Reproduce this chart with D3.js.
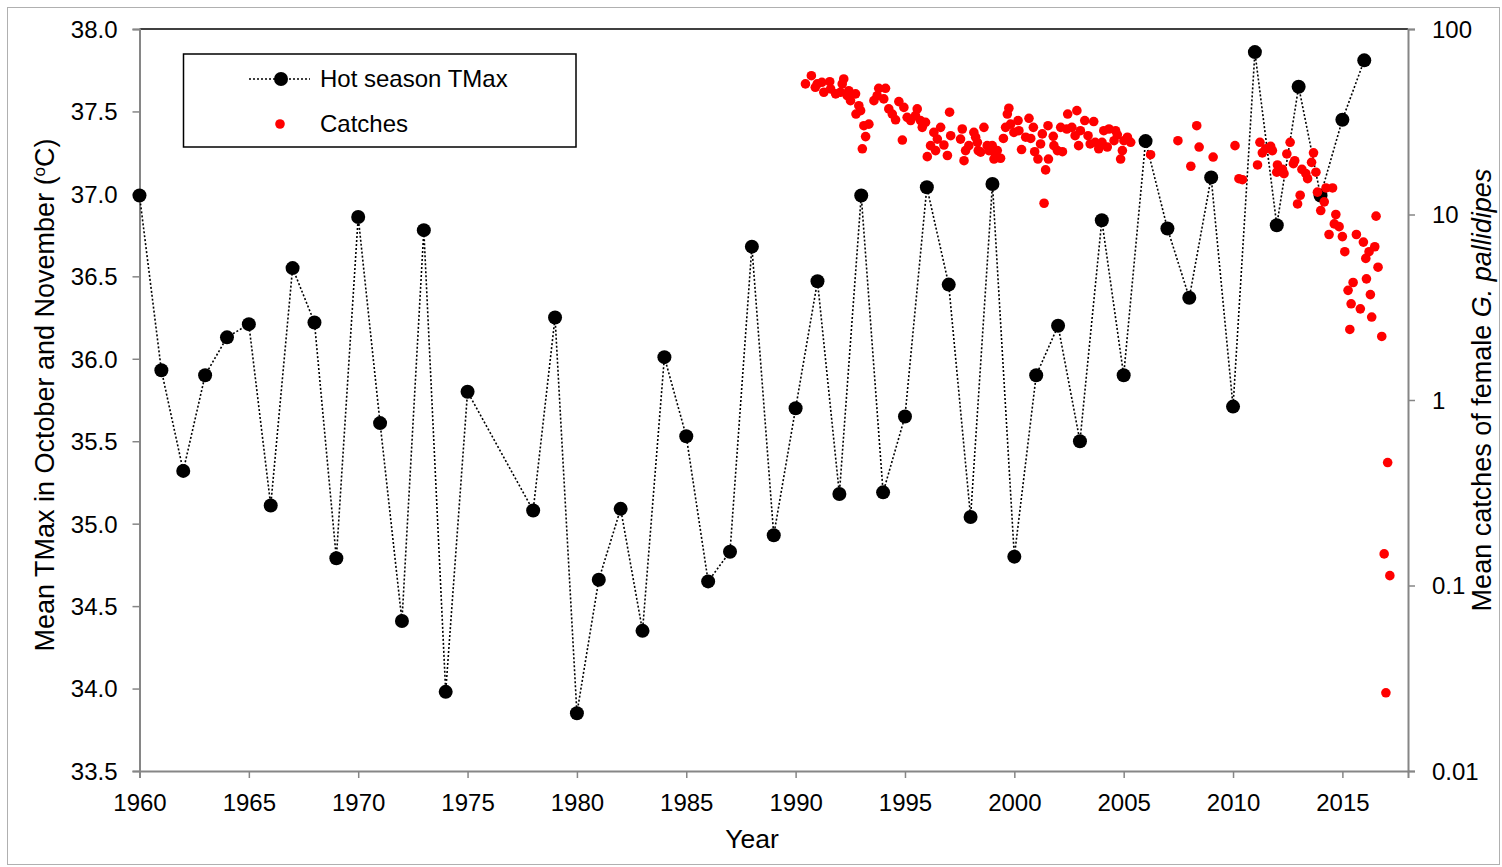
<!DOCTYPE html>
<html>
<head>
<meta charset="utf-8">
<script src="https://cdn.jsdelivr.net/npm/d3@7.9.0/dist/d3.min.js"></script>
<style>
  body { margin: 0; background: #fff; }
  svg { display: block; font-family: Arial, "Liberation Sans", sans-serif; }
</style>
</head>
<body>
<svg id="chart" width="1502" height="867"></svg>
<script>
// hot season TMax (Oct + Nov mean), 1976-77 missing
const tmaxYears = [1960, 1961, 1962, 1963, 1964, 1965, 1966, 1967, 1968, 1969,
  1970, 1971, 1972, 1973, 1974, 1975, 1978, 1979, 1980, 1981, 1982, 1983, 1984,
  1985, 1986, 1987, 1988, 1989, 1990, 1991, 1992, 1993, 1994, 1995, 1996, 1997,
  1998, 1999, 2000, 2001, 2002, 2003, 2004, 2005, 2006, 2007, 2008, 2009, 2010,
  2011, 2012, 2013, 2014, 2015, 2016];
const tmaxValues = [36.99, 35.93, 35.32, 35.90, 36.13, 36.21, 35.11, 36.55, 36.22, 34.79,
  36.86, 35.61, 34.41, 36.78, 33.98, 35.80, 35.08, 36.25, 33.85, 34.66, 35.09, 34.35, 36.01,
  35.53, 34.65, 34.83, 36.68, 34.93, 35.70, 36.47, 35.18, 36.99, 35.19, 35.65, 37.04, 36.45,
  35.04, 37.06, 34.80, 35.90, 36.20, 35.50, 36.84, 35.90, 37.32, 36.79, 36.37, 37.10, 35.71,
  37.86, 36.81, 37.65, 36.99, 37.45, 37.81];

// mean catches of female G. pallidipes (decimal year, catch)
const catchYears = [1990.45, 1990.72, 1990.9, 1990.99, 1991.2, 1991.29, 1991.56, 1991.6, 1991.83,
  1992.05, 1992.13, 1992.2, 1992.36, 1992.43, 1992.51, 1992.74, 1992.76, 1992.89, 1992.97,
  1993.05, 1993.12, 1993.2, 1993.35, 1993.58, 1993.73, 1993.8, 1994.03, 1994.11, 1994.26,
  1994.42, 1994.57, 1994.72, 1994.88, 1994.95, 1995.1, 1995.26, 1995.48, 1995.56, 1995.71,
  1995.79, 1995.94, 1996.02, 1996.17, 1996.32, 1996.4, 1996.48, 1996.63, 1996.78, 1996.94,
  1997.04, 1997.09, 1997.54, 1997.62, 1997.7, 1997.77, 1997.92, 1998.15, 1998.23, 1998.31,
  1998.35, 1998.46, 1998.61, 1998.76, 1998.84, 1998.99, 1999.07, 1999.14, 1999.22, 1999.37,
  1999.5, 1999.6, 1999.68, 1999.75, 1999.83, 1999.98, 2000.17, 2000.21, 2000.33, 2000.52,
  2000.67, 2000.75, 2000.87, 2000.93, 2001.08, 2001.2, 2001.28, 2001.36, 2001.43, 2001.54,
  2001.56, 2001.78, 2001.81, 2001.97, 2002.12, 2002.2, 2002.4, 2002.44, 2002.63, 2002.78,
  2002.86, 2002.94, 2003.02, 2003.22, 2003.37, 2003.47, 2003.63, 2003.7, 2003.86, 2004.01,
  2004.09, 2004.25, 2004.33, 2004.56, 2004.63, 2004.71, 2004.86, 2004.94, 2005.01, 2005.17,
  2005.32, 2006.23, 2007.48, 2008.07, 2008.34, 2008.45, 2009.09, 2010.09, 2010.27, 2010.43,
  2011.12, 2011.23, 2011.34, 2011.49, 2011.72, 2011.8, 2012.0, 2012.03, 2012.26, 2012.33,
  2012.46, 2012.61, 2012.76, 2012.82, 2012.95, 2013.07, 2013.15, 2013.33, 2013.41, 2013.59,
  2013.68, 2013.79, 2013.86, 2014.01, 2014.17, 2014.25, 2014.39, 2014.55, 2014.63, 2014.7,
  2014.85, 2015.0, 2015.11, 2015.26, 2015.34, 2015.4, 2015.49, 2015.64, 2015.82, 2015.96,
  2016.07, 2016.1, 2016.22, 2016.28, 2016.34, 2016.48, 2016.54, 2016.63, 2016.8, 2016.91,
  2016.99, 2017.07, 2017.17];
const catchValues = [50.6, 56, 48.5, 50.6, 51.6, 45.6, 52, 47.5, 44.7,
  45.6, 50.6, 53.8, 43.7, 46.5, 41.1, 44.7, 34.8, 38.6, 36.3,
  22.6, 30.1, 26.3, 30.7, 41.1, 43.7, 47.9, 42, 47.9, 37.1,
  34.8, 32.4, 40.6, 25.2, 37.8, 33.4, 32.1, 34.1, 37.1, 32.1,
  29.5, 31.4, 20.5, 23.5, 27.7, 22.1, 25.5, 29.5, 23.7, 20.8,
  35.6, 26.6, 25.5, 28.9, 19.5, 22.1, 23.5, 27.7, 26.1, 24.5,
  22.1, 21.7, 29.5, 23.5, 22.1, 23.5, 19.9, 20.8, 22.1, 20.1,
  25.7, 29.5, 34.8, 37.4, 30.7, 27.7, 32.1, 28.3, 22.4, 26.1,
  33, 25.7, 29.5, 21.8, 19.9, 24, 27.2, 11.5, 17.4, 30.1,
  19.9, 26.4, 23.5, 22.1, 29.5, 21.8, 28.9, 34.8, 29.5, 26.6,
  36.3, 23.5, 28.3, 32.1, 26.6, 24, 31.7, 24.5, 22.6, 24.5,
  28.3, 23.1, 28.9, 25, 28.3, 26.9, 19.9, 22.1, 25, 26.1,
  24.5, 21, 25, 18.2, 30.1, 23.1, 20.4, 23.5, 15.6, 15.4,
  18.5, 24.5, 21.5, 22.6, 23.3, 22.1, 16.9, 18.5, 17.5, 16.6,
  21.2, 24.5, 18.8, 19.5, 11.4, 12.7, 17.5, 16.6, 15.6, 19.1,
  21.5, 16.9, 13.2, 10.5, 11.7, 13.9, 7.8, 13.9, 8.9, 10,
  8.6, 7.6, 6.3, 3.9, 2.4, 3.3, 4.3, 7.8, 3.1, 7.1,
  5.8, 4.5, 6.3, 3.7, 2.8, 6.7, 9.8, 5.2, 2.2, 0.148,
  0.0264, 0.46, 0.113];

const xTicks = [1960, 1965, 1970, 1975, 1980, 1985, 1990, 1995, 2000, 2005, 2010, 2015];
const leftTicks = [33.5, 34.0, 34.5, 35.0, 35.5, 36.0, 36.5, 37.0, 37.5, 38.0];
const rightTicks = [0.01, 0.1, 1, 10, 100];
const rightTickLabels = ['0.01', '0.1', '1', '10', '100'];

const svg = d3.select('#chart');
const plotLeft = 139.5, plotRight = 1408, plotTop = 29, plotBottom = 771;
const axisGrey = '#868686';
const tickFont = 24;

const x = d3.scaleLinear().domain([1960, 2018]).range([plotLeft, plotRight]);
const y = d3.scaleLinear().domain([33.5, 38]).range([plotBottom, plotTop]);
const y2 = d3.scaleLog().domain([0.01, 100]).range([plotBottom, plotTop]);

// outer frame
svg.append('rect').attr('x', 7.5).attr('y', 7.5).attr('width', 1492).attr('height', 857)
  .attr('fill', 'none').attr('stroke', '#b0b0b0').attr('stroke-width', 1);

// plot area top border
svg.append('line').attr('x1', plotLeft).attr('x2', plotRight).attr('y1', plotTop).attr('y2', plotTop)
  .attr('stroke', '#000').attr('stroke-width', 1.5);

function styleAxis(g) {
  g.selectAll('path.domain').attr('stroke', axisGrey).attr('stroke-width', 2);
  g.selectAll('.tick line').attr('stroke', axisGrey).attr('stroke-width', 1.5);
  g.selectAll('.tick text').attr('fill', '#000').style('font-size', tickFont + 'px')
    .style('font-family', 'Arial, "Liberation Sans", sans-serif');
}

// bottom axis
const gx = svg.append('g').attr('transform', `translate(0,${plotBottom})`)
  .call(d3.axisBottom(x).tickValues(xTicks).tickFormat(d3.format('d')).tickSizeOuter(0).tickSize(7));
styleAxis(gx);
gx.selectAll('.tick text').attr('y', 40).attr('dy', 0);

// left axis
const gy = svg.append('g').attr('transform', `translate(${plotLeft},0)`)
  .call(d3.axisLeft(y).tickValues(leftTicks).tickFormat(d3.format('.1f')).tickSizeOuter(0).tickSize(7));
styleAxis(gy);
gy.selectAll('.tick text').attr('x', -22).attr('dy', '0.35em');

// right log axis
const gy2 = svg.append('g').attr('transform', `translate(${plotRight},0)`)
  .call(d3.axisRight(y2).tickValues(rightTicks)
    .tickFormat((d, i) => rightTickLabels[i]).tickSizeOuter(0).tickSize(7));
styleAxis(gy2);
gy2.selectAll('.tick text').attr('x', 24).attr('dy', '0.35em');

// axis titles
svg.append('text').attr('x', 752).attr('y', 848).attr('text-anchor', 'middle')
  .style('font-size', '26.5px').text('Year');

const lt = svg.append('text').attr('transform', 'translate(54,395) rotate(-90)')
  .attr('text-anchor', 'middle').style('font-size', '27px');
lt.append('tspan').text('Mean TMax in October and November (');
lt.append('tspan').attr('baseline-shift', 'super').style('font-size', '17px').text('o');
lt.append('tspan').text('C)');

const rt = svg.append('text').attr('transform', 'translate(1491,390) rotate(-90)')
  .attr('text-anchor', 'middle').style('font-size', '27px');
rt.append('tspan').text('Mean catches of female ');
rt.append('tspan').style('font-style', 'italic').text('G. pallidipes');

// TMax series
const tmax = tmaxYears.map((yr, i) => ({ yr, v: tmaxValues[i] }));
const line = d3.line().x(d => x(d.yr)).y(d => y(d.v));
svg.append('path').datum(tmax).attr('d', line).attr('fill', 'none')
  .attr('stroke', '#000').attr('stroke-width', 1.6).attr('stroke-dasharray', '2,2');
svg.append('g').selectAll('circle').data(tmax).join('circle')
  .attr('cx', d => x(d.yr)).attr('cy', d => y(d.v)).attr('r', 7).attr('fill', '#000');

// catches, drawn on top
svg.append('g').selectAll('circle').data(catchYears).join('circle')
  .attr('cx', d => x(d)).attr('cy', (d, i) => y2(catchValues[i])).attr('r', 4.8)
  .attr('fill', '#ff0000');

// legend
const lg = svg.append('g');
lg.append('rect').attr('x', 183.5).attr('y', 54).attr('width', 392.5).attr('height', 93)
  .attr('fill', '#fff').attr('stroke', '#000').attr('stroke-width', 1.5);
lg.append('line').attr('x1', 249).attr('x2', 310).attr('y1', 79).attr('y2', 79)
  .attr('stroke', '#000').attr('stroke-width', 1.6).attr('stroke-dasharray', '2,2');
lg.append('circle').attr('cx', 281).attr('cy', 79).attr('r', 7).attr('fill', '#000');
lg.append('circle').attr('cx', 280).attr('cy', 124).attr('r', 4.8).attr('fill', '#ff0000');
lg.append('text').attr('x', 320).attr('y', 87).style('font-size', tickFont + 'px').text('Hot season TMax');
lg.append('text').attr('x', 320).attr('y', 132).style('font-size', tickFont + 'px').text('Catches');
</script>
</body>
</html>
